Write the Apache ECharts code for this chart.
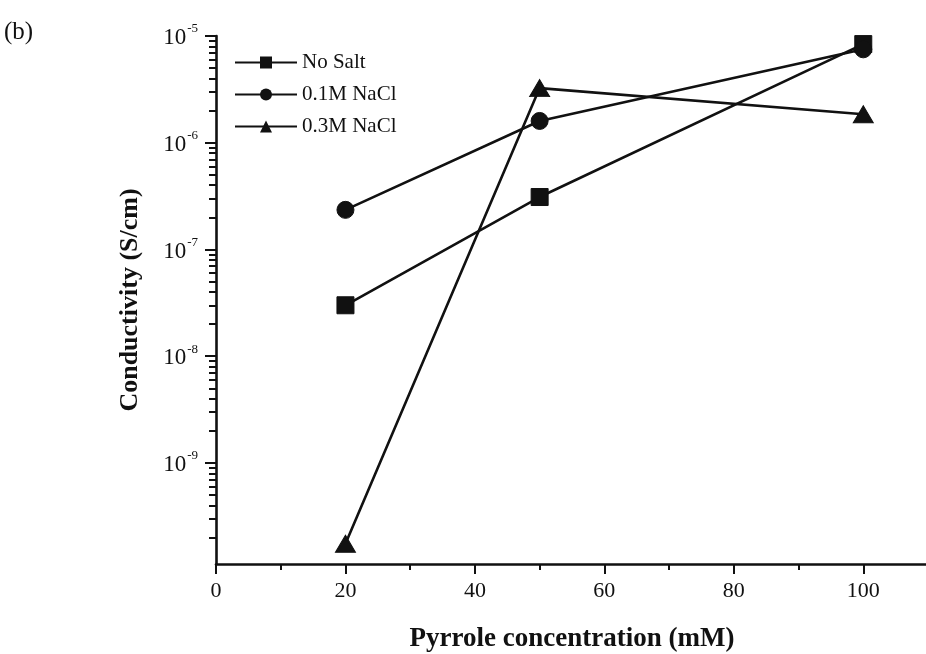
<!DOCTYPE html>
<html>
<head>
<meta charset="utf-8">
<script src="https://cdn.jsdelivr.net/npm/echarts@6/dist/echarts.min.js"></script>
<style>
  html, body { margin: 0; padding: 0; background: #ffffff; }
  #chart { width: 926px; height: 654px; }
</style>
</head>
<body>
<div id="chart"></div>
<script>
// Pyrrole concentration (mM)
const concentrations = [20, 50, 100];
// Conductivity (S/cm) for each electrolyte condition
const noSalt = [3.0e-8, 3.1e-7, 8.4e-6];
const nacl01 = [2.35e-7, 1.6e-6, 7.5e-6];
const nacl03 = [1.75e-10, 3.25e-6, 1.85e-6];
const seriesNames = ['No Salt', '0.1M NaCl', '0.3M NaCl'];

// Axis ticks
const xMajorTicks = [0, 20, 40, 60, 80, 100];
const xMinorTicks = [10, 30, 50, 70, 90];
const yDecades = [1e-9, 1e-8, 1e-7, 1e-6, 1e-5];
const yMinorTicks = [];
[1e-10, 1e-9, 1e-8, 1e-7, 1e-6].forEach(function (d) {
  for (let k = 2; k <= 9; k++) yMinorTicks.push(+(k * d).toPrecision(3));
});

const serif = 'Liberation Serif';
const ink = '#111111';
const Y_MIN = 1.13e-10, Y_MAX = 1e-5;

function pairs(vals) {
  return concentrations.map(function (c, i) { return [c, vals[i]]; });
}

function makeSeries(name, vals, symbol, size) {
  return {
    name: name,
    type: 'line',
    xAxisIndex: 0,
    yAxisIndex: 0,
    data: pairs(vals),
    symbol: symbol,
    symbolSize: size,
    showSymbol: true,
    lineStyle: { color: ink, width: 2.6 },
    itemStyle: { color: ink, borderColor: ink },
    emphasis: { disabled: true },
    animation: false,
    z: 3
  };
}

const chart = echarts.init(document.getElementById('chart'));
chart.setOption({
  backgroundColor: '#ffffff',
  animation: false,
  grid: {
    left: 216, top: 36, width: 712, height: 528,
    containLabel: false,
    outerBoundsMode: 'none'
  },
  legend: {
    left: 234,
    top: 52,
    padding: 0,
    orient: 'vertical',
    itemWidth: 62,
    itemHeight: 15,
    itemGap: 11,
    data: seriesNames,
    textStyle: { fontFamily: serif, fontSize: 21, color: ink },
    selectedMode: false
  },
  graphic: [{
    type: 'text',
    left: 4,
    top: 20,
    style: { text: '(b)', font: '25px "Liberation Serif"', fill: ink }
  }],
  xAxis: [{
    type: 'value',
    min: 0,
    max: 110,
    interval: 10,
    name: 'Pyrrole concentration (mM)',
    nameLocation: 'middle',
    nameGap: 62,
    nameTextStyle: { fontFamily: serif, fontSize: 27, fontWeight: 'bold', color: ink },
    axisLine: { show: true, lineStyle: { color: ink, width: 2.6 } },
    axisTick: { show: true, customValues: xMajorTicks, length: 10, lineStyle: { color: ink, width: 2 } },
    axisLabel: { customValues: xMajorTicks, margin: 16, fontFamily: serif, fontSize: 22, color: ink },
    splitLine: { show: false }
  }, {
    type: 'value',
    position: 'bottom',
    min: 0,
    max: 110,
    interval: 10,
    axisLine: { show: false },
    axisTick: { show: true, customValues: xMinorTicks, length: 6, lineStyle: { color: ink, width: 2 } },
    axisLabel: { show: false },
    splitLine: { show: false }
  }],
  yAxis: [{
    type: 'log',
    logBase: 10,
    min: Y_MIN,
    max: Y_MAX,
    position: 'left',
    name: 'Conductivity (S/cm)',
    nameLocation: 'middle',
    nameRotate: 90,
    nameGap: 73,
    nameTextStyle: { fontFamily: serif, fontSize: 26, fontWeight: 'bold', color: ink },
    axisLine: { show: true, lineStyle: { color: ink, width: 2.6 } },
    axisTick: { show: true, customValues: yDecades, length: 11, lineStyle: { color: ink, width: 2 } },
    axisLabel: {
      customValues: yDecades,
      margin: 18,
      color: ink,
      formatter: function (v) {
        return '{b|10}{s|' + Math.round(Math.log10(v)) + '}';
      },
      rich: {
        b: { fontFamily: serif, fontSize: 23, color: ink, padding: [4, 0, 0, 0] },
        s: { fontFamily: serif, fontSize: 13, color: ink, padding: [0, 0, 14, 1] }
      }
    },
    splitLine: { show: false }
  }, {
    type: 'log',
    logBase: 10,
    min: Y_MIN,
    max: Y_MAX,
    position: 'left',
    offset: 0,
    axisLine: { show: false },
    axisTick: { show: true, customValues: yMinorTicks, length: 7, lineStyle: { color: ink, width: 2 } },
    axisLabel: { show: false },
    splitLine: { show: false }
  }],
  series: [
    makeSeries(seriesNames[0], noSalt, 'rect', 17),
    makeSeries(seriesNames[1], nacl01, 'circle', 17),
    makeSeries(seriesNames[2], nacl03, 'triangle', [20, 17])
  ]
});
</script>
</body>
</html>
